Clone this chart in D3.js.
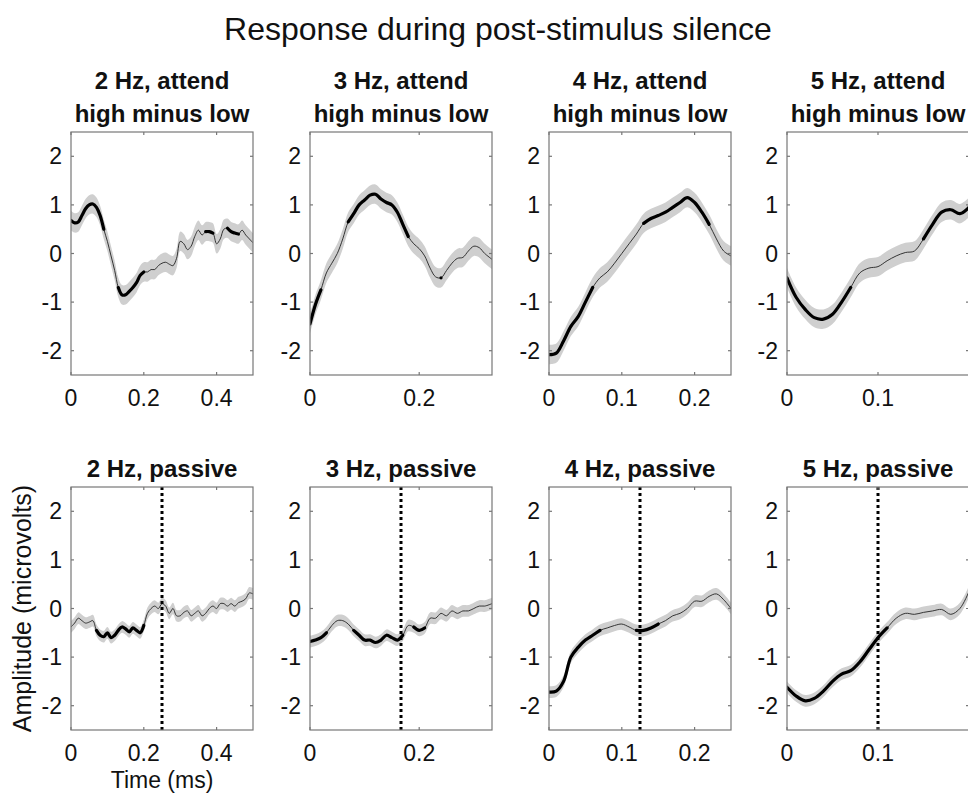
<!DOCTYPE html>
<html>
<head>
<meta charset="utf-8">
<script src="https://cdn.jsdelivr.net/npm/d3@7"></script>
<style>
  body { margin: 0; background: #fff; }
  text { font-family: "Liberation Sans", Arial, sans-serif; fill: #111; }
</style>
</head>
<body>
<script>
const width = 968, height = 795;

// panel definitions (top row: attend high minus low, bottom row: passive)
const freqs = ["2 Hz", "3 Hz", "4 Hz", "5 Hz"];
const xMax = [0.5, 1 / 3, 0.25, 0.2];
const xTicks = [[0, 0.2, 0.4], [0, 0.2], [0, 0.1, 0.2], [0, 0.1]];
const yTicks = [-2, -1, 0, 1, 2];
const step = 0.01;

// mean amplitude sampled every 10 ms
const attend = [
  [0.68,0.63,0.65,0.78,0.92,1.0,1.02,0.95,0.78,0.5,0.25,-0.05,-0.35,-0.7,-0.85,-0.85,-0.78,-0.7,-0.6,-0.45,-0.38,-0.38,-0.33,-0.33,-0.25,-0.2,-0.18,-0.22,-0.25,-0.1,0.25,0.2,0.08,0.15,0.35,0.48,0.38,0.45,0.45,0.42,0.2,0.3,0.5,0.52,0.45,0.42,0.4,0.48,0.38,0.3,0.22],
  [-1.45,-1.05,-0.75,-0.4,-0.2,0.0,0.3,0.65,0.82,1.0,1.1,1.2,1.22,1.12,1.05,1.0,0.85,0.6,0.35,0.2,0.1,-0.05,-0.3,-0.48,-0.5,-0.35,-0.2,-0.1,-0.08,0.05,0.15,0.12,0.0,-0.12],
  [-2.08,-2.05,-1.8,-1.5,-1.3,-1.0,-0.7,-0.5,-0.38,-0.2,0.0,0.2,0.4,0.62,0.72,0.78,0.85,0.95,1.05,1.15,1.05,0.85,0.6,0.3,0.05,-0.05],
  [-0.5,-0.9,-1.15,-1.32,-1.35,-1.25,-1.0,-0.7,-0.4,-0.3,-0.27,-0.15,-0.05,0.02,0.05,0.3,0.6,0.85,0.9,0.82,0.95]
];
const passive = [
  [-0.38,-0.3,-0.2,-0.25,-0.3,-0.28,-0.25,-0.45,-0.55,-0.58,-0.5,-0.6,-0.55,-0.45,-0.38,-0.42,-0.48,-0.4,-0.45,-0.5,-0.35,-0.1,0.0,0.05,0.0,0.1,0.05,-0.1,0.0,-0.15,-0.15,-0.08,-0.05,-0.15,-0.1,-0.05,-0.15,-0.1,0.0,0.05,0.0,0.1,0.1,0.05,0.1,0.05,0.12,0.15,0.2,0.32,0.3],
  [-0.68,-0.65,-0.6,-0.5,-0.35,-0.25,-0.25,-0.32,-0.45,-0.55,-0.65,-0.65,-0.7,-0.65,-0.55,-0.6,-0.65,-0.55,-0.35,-0.38,-0.45,-0.4,-0.2,-0.2,-0.1,-0.15,-0.05,-0.1,-0.05,-0.05,0.0,0.05,0.05,0.1],
  [-1.72,-1.7,-1.5,-1.0,-0.8,-0.65,-0.55,-0.45,-0.4,-0.35,-0.32,-0.38,-0.45,-0.45,-0.4,-0.32,-0.25,-0.15,-0.1,0.0,0.15,0.15,0.25,0.3,0.18,0.0],
  [-1.62,-1.8,-1.9,-1.85,-1.7,-1.5,-1.35,-1.28,-1.1,-0.85,-0.6,-0.4,-0.2,-0.1,-0.12,-0.08,-0.05,-0.02,-0.12,0.0,0.35]
];
// significant intervals (drawn thick)
const attendSig = [
  [[0, 0.09], [0.13, 0.2], [0.37, 0.39], [0.43, 0.46]],
  [[0, 0.027], [0.07, 0.18], [0.235, 0.245]],
  [[0, 0.06], [0.13, 0.225]],
  [[0, 0.075], [0.15, 0.2]]
];
const passiveSig = [
  [[0.07, 0.2]],
  [[0, 0.035], [0.08, 0.17], [0.19, 0.215]],
  [[0, 0.07], [0.12, 0.155]],
  [[0, 0.115]]
];
const bandHalf = [[0.2, 0.2, 0.2, 0.2], [0.12, 0.12, 0.12, 0.12]];

const panelW = 182, panelH = 243;
const colX = [71, 310, 549, 787];
const rowY = [132, 487];

const svg = d3.select("body").append("svg")
    .attr("width", width).attr("height", height);

svg.append("text")
    .attr("x", 498).attr("y", 40)
    .attr("text-anchor", "middle")
    .attr("font-size", 32)
    .text("Response during post-stimulus silence");

function drawPanel(col, row, values, sig, titles, dotted) {
  const g = svg.append("g").attr("transform", `translate(${colX[col]},${rowY[row]})`);
  const n = values.length;
  const pts = values.map((v, i) => ({t: i === n - 1 ? xMax[col] : i * step, v}));

  const x = d3.scaleLinear().domain([0, xMax[col]]).range([0, panelW]);
  const y = d3.scaleLinear().domain([-2.5, 2.5]).range([panelH, 0]);
  const hw = bandHalf[row][col];

  g.append("clipPath").attr("id", `c${row}${col}`)
    .append("rect").attr("width", panelW).attr("height", panelH);
  const plot = g.append("g").attr("clip-path", `url(#c${row}${col})`);

  plot.append("path").datum(pts)
      .attr("fill", "#cfcfcf")
      .attr("d", d3.area().curve(d3.curveCatmullRom)
        .x(d => x(d.t)).y0(d => y(d.v - hw)).y1(d => y(d.v + hw)));

  const line = d3.line().curve(d3.curveCatmullRom).x(d => x(d.t)).y(d => y(d.v));
  plot.append("path").datum(pts)
      .attr("fill", "none").attr("stroke", "#222").attr("stroke-width", 0.9)
      .attr("d", line);

  sig.forEach(([a, b]) => {
    const seg = pts.filter(d => d.t >= a - 1e-9 && d.t <= b + 1e-9);
    plot.append("path").datum(seg)
        .attr("fill", "none").attr("stroke", "#000").attr("stroke-width", 3.2)
        .attr("stroke-linecap", "round")
        .attr("d", line);
  });

  if (dotted) {
    plot.append("line")
        .attr("x1", x(xMax[col] / 2)).attr("x2", x(xMax[col] / 2))
        .attr("y1", 0).attr("y2", panelH)
        .attr("stroke", "#000").attr("stroke-width", 3)
        .attr("stroke-dasharray", "3,3");
  }

  // box with inward ticks on all four sides
  const tick = 3;
  const ax = g.append("g").attr("stroke", "#777").attr("stroke-width", 1.2);
  ax.append("rect").attr("width", panelW).attr("height", panelH).attr("fill", "none");
  xTicks[col].forEach(t => {
    ax.append("line").attr("x1", x(t)).attr("x2", x(t)).attr("y1", panelH).attr("y2", panelH - tick);
    ax.append("line").attr("x1", x(t)).attr("x2", x(t)).attr("y1", 0).attr("y2", tick);
  });
  yTicks.forEach(t => {
    ax.append("line").attr("x1", 0).attr("x2", tick).attr("y1", y(t)).attr("y2", y(t));
    ax.append("line").attr("x1", panelW).attr("x2", panelW - tick).attr("y1", y(t)).attr("y2", y(t));
  });

  g.selectAll("text.xt").data(xTicks[col]).join("text")
      .attr("x", d => x(d)).attr("y", panelH + 31)
      .attr("text-anchor", "middle").attr("font-size", 23)
      .text(d => d3.format("")(d));
  g.selectAll("text.yt").data(yTicks).join("text")
      .attr("x", -9).attr("y", d => y(d) + 8)
      .attr("text-anchor", "end").attr("font-size", 23)
      .text(d => d);

  titles.forEach((s, i) => {
    g.append("text")
        .attr("x", panelW / 2).attr("y", -10 - (titles.length - 1 - i) * 33)
        .attr("text-anchor", "middle").attr("font-size", 24).attr("font-weight", "bold")
        .text(s);
  });
}

freqs.forEach((f, c) => {
  drawPanel(c, 0, attend[c], attendSig[c], [`${f}, attend`, "high minus low"], false);
  drawPanel(c, 1, passive[c], passiveSig[c], [`${f}, passive`], true);
});

svg.append("text")
    .attr("transform", `translate(31,${rowY[1] + panelH / 2}) rotate(-90)`)
    .attr("text-anchor", "middle").attr("font-size", 25)
    .text("Amplitude (microvolts)");
svg.append("text")
    .attr("x", colX[0] + panelW / 2).attr("y", 788)
    .attr("text-anchor", "middle").attr("font-size", 23)
    .text("Time (ms)");
</script>
</body>
</html>
